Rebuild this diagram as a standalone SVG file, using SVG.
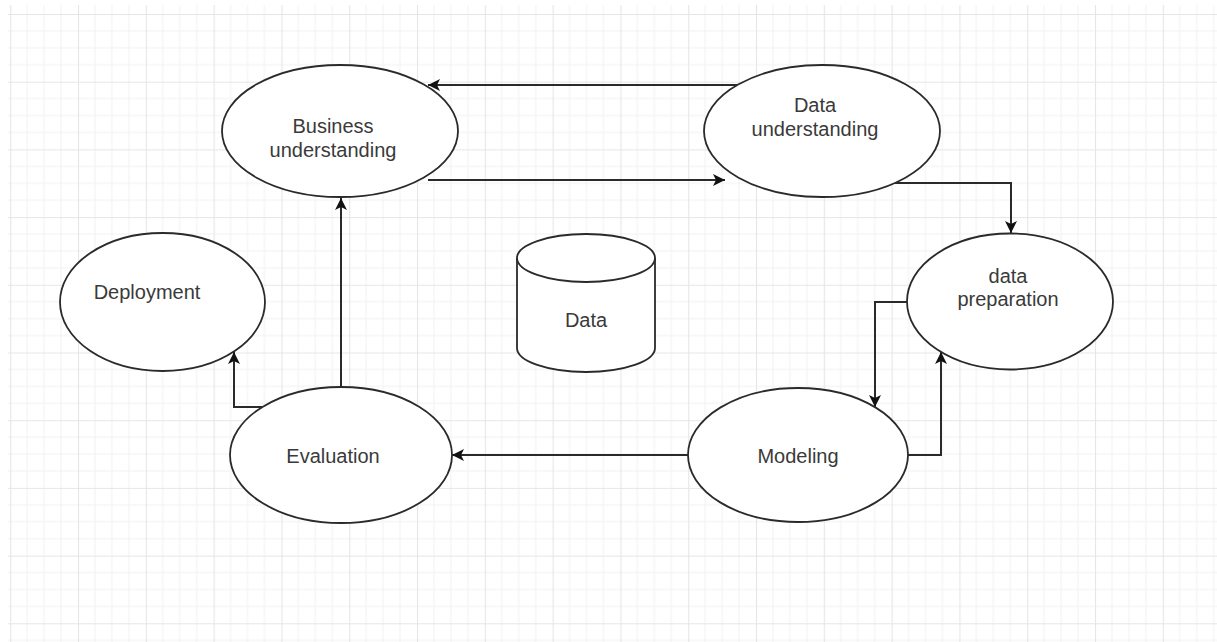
<svg xmlns="http://www.w3.org/2000/svg" width="1217" height="642" viewBox="0 0 1217 642">
<style>
.node{fill:#ffffff;stroke:#2a2a2a;stroke-width:1.8}
.lbl{font-family:"Liberation Sans",Arial,sans-serif;font-size:20px;fill:#3a3a3a;text-anchor:middle}
.edge{fill:none;stroke:#2a2a2a;stroke-width:2}
</style>
<defs>
<pattern id="grid" patternUnits="userSpaceOnUse" x="10.2" y="14" width="67.8" height="67.7">
<path d="M16.95,0V67.7M33.9,0V67.7M50.85,0V67.7M0,16.9H67.8M0,33.85H67.8M0,50.8H67.8" stroke="#f2f2f2" stroke-width="1" fill="none"/>
<path d="M0.5,0V67.7M0,0.5H67.8" stroke="#e6e6e6" stroke-width="1.2" fill="none"/>
</pattern>
<marker id="arr" markerUnits="userSpaceOnUse" viewBox="0 0 12 12" refX="12" refY="6" markerWidth="12" markerHeight="12" orient="auto">
<path d="M0,0L12,6L0,12L3,6Z" fill="#111111"/>
</marker>
</defs>
<rect width="1217" height="642" fill="#ffffff"/>
<rect x="8" y="5" width="1209" height="637" fill="url(#grid)"/>
<g id="connectors">
<path class="edge" d="M737,85H428" marker-end="url(#arr)"/>
<path class="edge" d="M428,180H725" marker-end="url(#arr)"/>
<path class="edge" d="M890,183H1011V233" marker-end="url(#arr)"/>
<path class="edge" d="M907,302H875V407" marker-end="url(#arr)"/>
<path class="edge" d="M908,455H941V352" marker-end="url(#arr)"/>
<path class="edge" d="M688,455H452" marker-end="url(#arr)"/>
<path class="edge" d="M341,387V198" marker-end="url(#arr)"/>
<path class="edge" d="M262,407H234V352" marker-end="url(#arr)"/>
</g>
<g id="business-understanding">
<ellipse class="node" cx="340" cy="131" rx="118" ry="66"/>
<text class="lbl" x="333" y="133">Business</text>
<text class="lbl" x="333" y="157">understanding</text>
</g>
<g id="data-understanding">
<ellipse class="node" cx="822" cy="131" rx="118" ry="66"/>
<text class="lbl" x="815" y="112">Data</text>
<text class="lbl" x="815" y="136">understanding</text>
</g>
<g id="data-preparation">
<ellipse class="node" cx="1010" cy="301.5" rx="103" ry="68"/>
<text class="lbl" x="1008" y="283">data</text>
<text class="lbl" x="1008" y="306">preparation</text>
</g>
<g id="modeling">
<ellipse class="node" cx="798" cy="455" rx="110" ry="67"/>
<text class="lbl" x="798" y="463">Modeling</text>
</g>
<g id="evaluation">
<ellipse class="node" cx="341" cy="455" rx="111" ry="68"/>
<text class="lbl" x="333" y="463">Evaluation</text>
</g>
<g id="deployment">
<ellipse class="node" cx="162.5" cy="302" rx="102.5" ry="69"/>
<text class="lbl" x="147" y="299">Deployment</text>
</g>
<g id="data">
<path class="node" d="M517,258V348A69,24 0 0 0 655,348V258A69,24 0 0 0 517,258Z"/>
<path class="node" fill="none" d="M517,258A69,24 0 0 0 655,258"/>
<text class="lbl" x="586" y="327">Data</text>
</g>
</svg>
